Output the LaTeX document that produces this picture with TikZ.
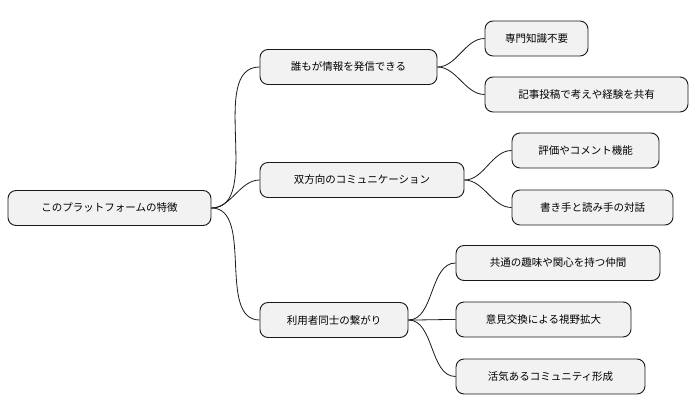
\documentclass[tikz,border=0pt]{standalone}
\usepackage{fontspec}
\setmainfont{Noto Sans CJK JP}
\begin{document}
\begin{tikzpicture}[x=1pt,y=-1pt,
 box/.style={draw=black!90,fill=black!5,rounded corners=8pt,line width=0.9pt,minimum height=35pt,inner sep=0pt,font=\fontsize{10.5pt}{12pt}\selectfont},
 link/.style={draw=black!90,line width=0.8pt}]
\useasboundingbox (0,0) rectangle (698,415);
\node[box,minimum width=203] (r) at (109.5,208) {このプラットフォームの特徴};
\node[box,minimum width=177] (a) at (348.5,67) {誰もが情報を発信できる};
\node[box,minimum width=204] (b) at (362,180) {双方向のコミュニケーション};
\node[box,minimum width=148] (c) at (334,320) {利用者同士の繋がり};
\node[box,minimum width=103] (a1) at (536.5,38.5) {専門知識不要};
\node[box,minimum width=203] (a2) at (586.5,94.5) {記事投稿で考えや経験を共有};
\node[box,minimum width=147] (b1) at (585.5,150.5) {評価やコメント機能};
\node[box,minimum width=161] (b2) at (592.5,207.5) {書き手と読み手の対話};
\node[box,minimum width=204] (c1) at (558,263) {共通の趣味や関心を持つ仲間};
\node[box,minimum width=175] (c2) at (543.5,319.5) {意見交換による視野拡大};
\node[box,minimum width=189] (c3) at (550.5,376.5) {活気あるコミュニティ形成};
\foreach \p/\c in {r/a,r/b,r/c,a/a1,a/a2,b/b1,b/b2,c/c1,c/c2,c/c3}
  \draw[link] (\p.east) to[out=0,in=180,looseness=0.9] (\c.west);
\end{tikzpicture}
\end{document}
